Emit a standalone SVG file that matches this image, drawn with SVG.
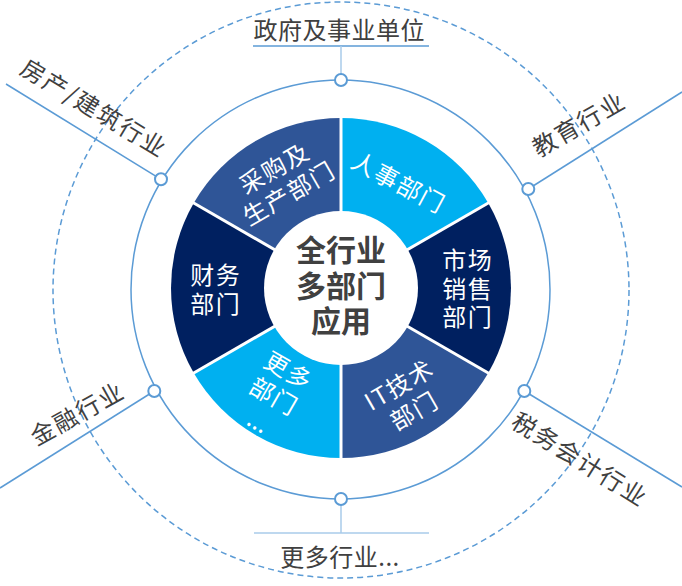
<svg xmlns="http://www.w3.org/2000/svg" width="682" height="586" viewBox="0 0 682 586">
<style>
.t{font-family:"Noto Sans CJK SC","Noto Sans",sans-serif;text-anchor:middle}
.lbl{font-size:24px;fill:#404040;letter-spacing:1.8px}
.seg{font-size:24px;fill:#ffffff;letter-spacing:1.5px}
.ctr{font-size:30px;font-weight:700;fill:#404040}
.ln{stroke:#5B9BD5;stroke-width:1.5;fill:none}
.lt{stroke:#A9CBEA;stroke-width:1.5;fill:none}
.dot{stroke:#5B9BD5;stroke-width:2;fill:#ffffff}
.sep{stroke:#ffffff;stroke-width:3}
</style>
<rect width="682" height="586" fill="#ffffff"/>
<g id="connectors">
<circle class="ln" cx="341" cy="290" r="288" stroke-width="1.3" stroke-dasharray="6 4"/>
<circle class="ln" cx="340.5" cy="289.5" r="209.5"/>
<line class="ln" x1="6" y1="84" x2="161" y2="179.3"/>
<line class="ln" x1="528.3" y1="189" x2="682" y2="92"/>
<line class="ln" x1="0" y1="488" x2="154.3" y2="391"/>
<line class="ln" x1="524.3" y1="391" x2="682" y2="487"/>
<line class="ln" x1="253" y1="46" x2="429" y2="46"/>
<line class="lt" x1="341" y1="46" x2="341" y2="74"/>
<line class="lt" x1="254" y1="533" x2="429" y2="533" stroke="#C5DCF0" stroke-width="2"/>
<line class="lt" x1="341" y1="505" x2="341" y2="533"/>
<circle class="dot" cx="341" cy="80" r="6"/>
<circle class="dot" cx="161" cy="179.3" r="6"/>
<circle class="dot" cx="528.3" cy="189" r="6"/>
<circle class="dot" cx="154.3" cy="391" r="6"/>
<circle class="dot" cx="524.3" cy="391" r="6"/>
<circle class="dot" cx="341" cy="499" r="6"/>
</g>
<g id="seg-renshi">
<path d="M341,288 L488.22,203 A170,170 0 0 0 341,118 Z" fill="#00B0F0"/>
<g transform="translate(398,182) rotate(28)"><text class="t seg" x="0.75" y="9.1">人事部门</text></g>
</g>
<g id="seg-caigou">
<path d="M341,288 L341,118 A170,170 0 0 0 193.78,203 Z" fill="#2F5597"/>
<g transform="translate(281,181) rotate(-30)"><text class="t seg"><tspan x="0.75" y="-5.4">采购及</tspan><tspan x="0.75" y="23.6">生产部门</tspan></text></g>
</g>
<g id="seg-caiwu">
<path d="M341,288 L193.78,203 A170,170 0 0 0 193.78,373 Z" fill="#002060"/>
<g transform="translate(215,289.5)"><text class="t seg"><tspan x="0.75" y="-5.4">财务</tspan><tspan x="0.75" y="23.6">部门</tspan></text></g>
</g>
<g id="seg-gengduo">
<path d="M341,288 L193.78,373 A170,170 0 0 0 341,458 Z" fill="#00B0F0"/>
<g transform="translate(273.3,395.7) rotate(30)"><text class="t seg"><tspan x="0.75" y="-20.4">更多</tspan><tspan x="0.75" y="9.1">部门</tspan><tspan x="0" y="38.6" style="letter-spacing:0">...</tspan></text></g>
</g>
<g id="seg-it">
<path d="M341,288 L341,458 A170,170 0 0 0 488.22,373 Z" fill="#2F5597"/>
<g transform="translate(406,398) rotate(-30)"><text class="t seg"><tspan x="0.75" y="-5.9">IT技术</tspan><tspan x="0.75" y="24.1">部门</tspan></text></g>
</g>
<g id="seg-shichang">
<path d="M341,288 L488.22,373 A170,170 0 0 0 488.22,203 Z" fill="#002060"/>
<g transform="translate(467,288.5)"><text class="t seg"><tspan x="0.75" y="-19.4">市场</tspan><tspan x="0.75" y="9.1">销售</tspan><tspan x="0.75" y="37.6">部门</tspan></text></g>
</g>
<g id="separators">
<line class="sep" x1="341" y1="288" x2="341" y2="116"/>
<line class="sep" x1="341" y1="288" x2="341" y2="460"/>
<line class="sep" x1="341" y1="288" x2="490" y2="202"/>
<line class="sep" x1="341" y1="288" x2="192" y2="202"/>
<line class="sep" x1="341" y1="288" x2="490" y2="374"/>
<line class="sep" x1="341" y1="288" x2="192" y2="374"/>
</g>
<g id="center">
<circle cx="341" cy="288" r="77" fill="#ffffff"/>
<text class="t ctr"><tspan x="341" y="261">全行业</tspan><tspan x="341" y="296.5">多部门</tspan><tspan x="341" y="332">应用</tspan></text>
</g>
<g id="label-zhengfu">
<text class="t lbl" x="339.3" y="39.1" style="letter-spacing:0.5px">政府及事业单位</text>
</g>
<g id="label-fangchan">
<g transform="translate(93.5,107.5) rotate(31)"><text class="t lbl" x="0.9" y="9.1">房产/建筑行业</text></g>
</g>
<g id="label-jiaoyu">
<g transform="translate(578,124.5) rotate(-30)"><text class="t lbl" x="0.9" y="9.1">教育行业</text></g>
</g>
<g id="label-jinrong">
<g transform="translate(76.5,413.7) rotate(-29)"><text class="t lbl" x="0.9" y="9.1">金融行业</text></g>
</g>
<g id="label-shuiwu">
<g transform="translate(579.2,458.7) rotate(32)"><text class="t lbl" x="0.9" y="9.1">税务会计行业</text></g>
</g>
<g id="label-gengduo">
<text class="t lbl" x="340" y="565.5" style="letter-spacing:0.5px">更多行业...</text>
</g>
</svg>
